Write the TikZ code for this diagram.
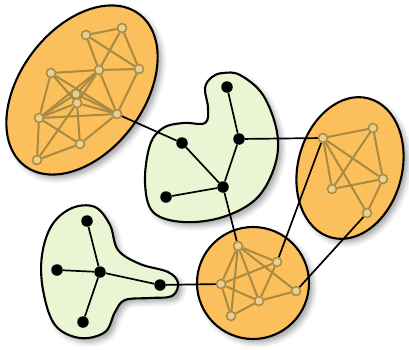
\documentclass[tikz,border=0pt]{standalone}
\usetikzlibrary{shadows.blur}
\pgfdeclarelayer{blobs}
\pgfdeclarelayer{links}
\pgfsetlayers{blobs,links,main}
\definecolor{clusterorange}{RGB}{251,192,92}
\definecolor{clustergreen}{RGB}{234,245,212}
\definecolor{linkolive}{RGB}{168,138,66}
\definecolor{dotfill}{RGB}{232,208,146}

\begin{document}
\begin{tikzpicture}[x=1pt, y=-1pt,
          blob/.style={draw=black, line width=2.1pt, blur shadow={shadow xshift=4pt, shadow yshift=-4pt, shadow blur radius=5pt, shadow opacity=35}},
          orangeblob/.style={blob, fill=clusterorange},
          greenblob/.style={blob, fill=clustergreen},
          dot/.style={circle, draw=linkolive, fill=dotfill, line width=1.5pt, inner sep=0pt, minimum size=9pt},
          hub/.style={circle, fill=black, inner sep=0pt, minimum size=11.5pt},
          olivelink/.style={draw=linkolive, line width=2pt},
          bridge/.style={draw=black, line width=1.7pt}]
        \useasboundingbox (0,0) rectangle (409,349);

        \begin{pgfonlayer}{blobs}
          \path [orangeblob, rotate around={53:(82,90)}] (82,90) ellipse [x radius=95pt, y radius=62pt];
          \path [orangeblob, rotate around={-15:(350,168)}] (350,168) ellipse [x radius=52pt, y radius=72pt];
          \path [orangeblob] (253,283) circle [radius=56pt];
          \path [greenblob] plot [smooth cycle, tension=0.6] coordinates {(223,73) (240,75) (263,95) (277,132) (275,165) (257,198) (223,217) (183,222) (153,212) (145,182) (150,145) (163,128) (183,123) (205,123) (208,108) (205,88) (212,77)};
          \path [greenblob] plot [smooth cycle, tension=0.6] coordinates {(95,207) (72,208) (52,225) (42,255) (43,290) (55,325) (80,338) (105,332) (115,312) (125,300) (150,298) (172,296) (178,283) (168,272) (140,264) (118,250) (110,225)};
        \end{pgfonlayer}

        \node [dot] (tA) at (86,35) {};
        \node [dot] (tB) at (122,28) {};
        \node [dot] (tC) at (51,73) {};
        \node [dot] (tD) at (99,70) {};
        \node [dot] (tE) at (139,69) {};
        \node [dot] (tF) at (76,94) {};
        \node [dot] (tG) at (77,103) {};
        \node [dot] (tH) at (39,118) {};
        \node [dot] (tI) at (117,114) {};
        \node [dot] (tJ) at (80,144) {};
        \node [dot] (tK) at (37,160) {};

        \node [dot] (rP) at (323,138) {};
        \node [dot] (rQ) at (373,128) {};
        \node [dot] (rR) at (383,179) {};
        \node [dot] (rS) at (332,189) {};
        \node [dot] (rT) at (367,213) {};

        \node [dot] (bU) at (238,246) {};
        \node [dot] (bV) at (277,262) {};
        \node [dot] (bW) at (221,284) {};
        \node [dot] (bX) at (296,291) {};
        \node [dot] (bY) at (259,301) {};
        \node [dot] (bZ) at (231,316) {};

        \node [hub] (g1) at (227,87) {};
        \node [hub] (g2) at (182,143) {};
        \node [hub] (g3) at (239,139) {};
        \node [hub] (g4) at (223,187) {};
        \node [hub] (g5) at (166,197) {};

        \node [hub] (h1) at (87,221) {};
        \node [hub] (h2) at (57,270) {};
        \node [hub] (h3) at (100,272) {};
        \node [hub] (h4) at (160,285) {};
        \node [hub] (h5) at (83,322) {};

        \begin{pgfonlayer}{links}
          \foreach \a/\b in {tA/tB, tA/tD, tA/tE, tB/tD, tB/tE, tC/tD, tD/tE, tC/tH, tC/tI, tC/tG, tD/tF, tD/tG, tD/tH, tG/tK, tD/tI, tE/tI, tF/tH, tF/tI, tG/tH, tG/tI, tG/tJ, tH/tI, tH/tJ, tH/tK, tI/tJ, tK/tJ,
                             rP/rQ, rQ/rR, rP/rS, rP/rR, rP/rT, rQ/rS, rS/rR, rR/rT,
                             bU/bV, bU/bX, bU/bW, bU/bZ, bU/bY, bW/bV, bW/bY, bW/bZ, bV/bY, bY/bX, bZ/bY}
            \draw [olivelink] (\a) -- (\b);
          \foreach \a/\b in {tI/g2, g2/g4, g1/g3, g3/g4, g5/g4, g3/rP, g4/bU, rP/bV, rT/bX,
                             h1/h3, h2/h3, h3/h4, h3/h5, h4/bW}
            \draw [bridge] (\a) -- (\b);
        \end{pgfonlayer}
      \end{tikzpicture}
\end{document}
